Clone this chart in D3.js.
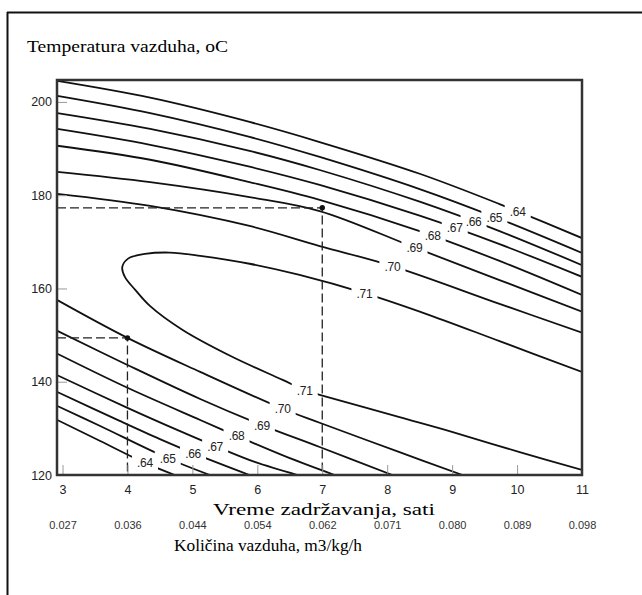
<!DOCTYPE html>
<html>
<head>
<meta charset="utf-8">
<script src="https://cdn.jsdelivr.net/npm/d3@7"></script>
<style>
  body { margin: 0; background: #fff; }
  svg { display: block; }
</style>
</head>
<body>
<div id="chart"></div>
<script>
// bottom axis: hours, and the air amount that goes with each hour
const hours = [3, 4, 5, 6, 7, 8, 9, 10, 11];
const airAmount = ["0.027", "0.036", "0.044", "0.054", "0.062", "0.071", "0.080", "0.089", "0.098"];
const tempTicks = [120, 140, 160, 180, 200];

const levels = [".64", ".65", ".66", ".67", ".68", ".69", ".70", ".71"];

// contour lines, [hours, temperature C]
const upper64 = [[2.92,204.5],[4.35,200.9],[5.88,195.7],[6.96,191.4],[8.5,184.6],[9.73,178.1],[11,170.8]];
const upper65 = [[2.92,201.3],[4.35,197.6],[5.88,192.5],[6.96,188.2],[8.5,181.3],[9.73,174.9],[11,167.6]];
const upper66 = [[2.92,197.6],[4.35,194.2],[5.88,189.5],[6.96,185.4],[8.5,178.6],[9.73,172.3],[11,165.0]];
const upper67 = [[2.92,194.2],[4.35,190.8],[5.88,186.1],[6.96,182.2],[8.5,175.6],[9.73,169.5],[11,162.5]];
const upper68 = [[2.92,190.6],[4.35,187.6],[5.88,182.8],[6.96,179.0],[8.5,172.3],[9.73,165.9],[11,158.6]];
const upper69 = [[2.92,185.0],[4.35,182.8],[5.88,179.6],[6.96,176.6],[8.42,168.8],[9.73,161.8],[11,155.0]];
const upper70 = [[2.92,180.3],[4.35,177.7],[5.88,173.4],[6.96,169.1],[8.08,164.8],[9.73,156.7],[11,150.5]];
const ring71 = [[11,142.1],[9.73,148.7],[8.65,154.3],[7.65,159.0],[6.65,162.9],[5.88,165.3],[5.12,167.0],[4.65,167.7],
  [4.27,167.4],[4.01,166.4],[3.92,164.6],[3.96,162.5],[4.12,159.7],[4.35,156.2],[4.85,151.1],[5.62,145.3],
  [6.39,140.4],[6.73,138.2],[6.96,137.2],[8.19,132.4],[9.01,129.2],[10.04,124.9],[11,121.1]];
const lower70 = [[2.92,157.5],[4,149.4],[5.12,142.1],[6.39,134.2],[6.96,131.2],[8.19,124.9],[9.16,120]];
const lower69 = [[2.92,150.9],[4,143.6],[5.12,136.3],[6.07,130.7],[6.96,126.0],[8.08,120]];
const lower68 = [[2.92,146.0],[4,138.7],[5.12,131.8],[5.68,128.4],[6.5,123.6],[7.19,120]];
const lower67 = [[2.92,141.4],[4,134.4],[4.81,129.4],[5.35,126.2],[5.96,122.8],[6.62,120]];
const lower66 = [[2.92,137.8],[3.88,131.6],[4.5,127.7],[5.01,124.7],[5.88,120]];
const lower65 = [[2.92,134.8],[3.58,130.5],[4.62,123.6],[5.27,120]];
const lower64 = [[2.92,131.8],[3.58,127.3],[4.27,122.6],[4.73,120]];

// where the level labels sit on the lines
const upperLabels = [[10.01,176.5],[9.65,175.3],[9.33,174.3],[9.04,173.0],[8.70,171.3],[8.42,168.8],[8.08,164.8],[7.65,159.0]];
const lowerLabels = [[4.27,122.6],[4.62,123.6],[5.01,124.7],[5.35,126.2],[5.68,128.4],[6.07,130.7],[6.39,134.2],[6.73,138.2]];

// the two marked points
const refHours = [4, 7];
const refTemps = [149.4, 177.3];

const width = 642, height = 595;
const plotLeft = 57, plotRight = 582, plotTop = 80, plotBottom = 475;

const svg = d3.select("#chart").append("svg")
  .attr("width", width)
  .attr("height", height);

const x = d3.scaleLinear().domain([2.915, 11]).range([plotLeft, plotRight]);
const y = d3.scaleLinear().domain([120, 204.7]).range([plotBottom, plotTop]);

// outer frame (only top and left show in the window)
svg.append("line").attr("x1", 7).attr("y1", 12.5).attr("x2", width).attr("y2", 12.5)
  .attr("stroke", "#111").attr("stroke-width", 2);
svg.append("line").attr("x1", 7.5).attr("y1", 12).attr("x2", 7.5).attr("y2", height)
  .attr("stroke", "#111").attr("stroke-width", 2);

const serif = "Liberation Serif, serif";

svg.append("text")
  .attr("x", 27).attr("y", 52)
  .attr("font-family", serif)
  .attr("font-size", 17)
  .attr("textLength", 201)
  .attr("lengthAdjust", "spacingAndGlyphs")
  .text("Temperatura vazduha, oC");

const defs = svg.append("defs");
defs.append("clipPath").attr("id", "plotClip")
  .append("rect").attr("x", plotLeft).attr("y", plotTop)
  .attr("width", plotRight - plotLeft).attr("height", plotBottom - plotTop);

const lines = [
  { pts: upper64, labels: [upperLabels[0]] },
  { pts: upper65, labels: [upperLabels[1]] },
  { pts: upper66, labels: [upperLabels[2]] },
  { pts: upper67, labels: [upperLabels[3]] },
  { pts: upper68, labels: [upperLabels[4]] },
  { pts: upper69, labels: [upperLabels[5]] },
  { pts: upper70, labels: [upperLabels[6]] },
  { pts: ring71, labels: [upperLabels[7], lowerLabels[7]] },
  { pts: lower64, labels: [lowerLabels[0]] },
  { pts: lower65, labels: [lowerLabels[1]] },
  { pts: lower66, labels: [lowerLabels[2]] },
  { pts: lower67, labels: [lowerLabels[3]] },
  { pts: lower68, labels: [lowerLabels[4]] },
  { pts: lower69, labels: [lowerLabels[5]] },
  { pts: lower70, labels: [lowerLabels[6]] }
];

const line = d3.line()
  .x(d => x(d[0]))
  .y(d => y(d[1]))
  .curve(d3.curveCatmullRom.alpha(0.5));

const plot = svg.append("g").attr("clip-path", "url(#plotClip)");

lines.forEach(function(c, i) {
  // cut a gap in this line where its label goes
  const mask = defs.append("mask").attr("id", "gap" + i)
    .attr("maskUnits", "userSpaceOnUse")
    .attr("x", 0).attr("y", 0).attr("width", width).attr("height", height);
  mask.append("rect").attr("width", width).attr("height", height).attr("fill", "#fff");
  c.labels.forEach(function(p) {
    mask.append("rect")
      .attr("x", x(p[0]) - 13).attr("y", y(p[1]) - 7)
      .attr("width", 26).attr("height", 14)
      .attr("fill", "#000");
  });
  plot.append("path")
    .attr("d", line(c.pts))
    .attr("fill", "none")
    .attr("stroke", "#111")
    .attr("stroke-width", 1.8)
    .attr("mask", "url(#gap" + i + ")");
});

// level labels
const labelFont = "Liberation Sans, Arial, sans-serif";
[upperLabels, lowerLabels].forEach(function(set) {
  svg.append("g").selectAll("text")
    .data(set)
    .enter().append("text")
    .attr("x", d => x(d[0]))
    .attr("y", d => y(d[1]) + 4.5)
    .attr("text-anchor", "middle")
    .attr("font-family", labelFont)
    .attr("font-size", 12)
    .attr("letter-spacing", -0.3)
    .attr("fill", "#222")
    .text((d, i) => levels[i]);
});

// dashed guide lines to the marked points
refHours.forEach(function(h, i) {
  const t = refTemps[i];
  svg.append("path")
    .attr("d", "M" + x.range()[0] + "," + y(t) + "H" + x(h) + "V" + y.range()[0])
    .attr("fill", "none")
    .attr("stroke", "#222")
    .attr("stroke-width", 1.3)
    .attr("stroke-dasharray", "9,4");
  svg.append("circle")
    .attr("cx", x(h)).attr("cy", y(t)).attr("r", 2.7)
    .attr("fill", "#111");
});

// axes
const xAxis = svg.append("g")
  .attr("transform", "translate(0," + plotBottom + ")")
  .call(d3.axisBottom(x).tickValues(hours).tickSizeInner(-10).tickSizeOuter(0).tickPadding(10));
xAxis.select(".domain").remove();
xAxis.selectAll("line").attr("stroke", "#999");
xAxis.selectAll("text").attr("font-family", labelFont).attr("font-size", 12.5).attr("fill", "#222");

const airAxis = svg.append("g")
  .attr("transform", "translate(0," + plotBottom + ")")
  .call(d3.axisBottom(x).tickValues(hours).tickSize(0).tickPadding(46)
    .tickFormat((d, i) => airAmount[i]));
airAxis.select(".domain").remove();
airAxis.selectAll("text").attr("font-family", labelFont).attr("font-size", 11).attr("fill", "#333");

const yAxis = svg.append("g")
  .attr("transform", "translate(" + plotLeft + ",0)")
  .call(d3.axisLeft(y).tickValues(tempTicks).tickSizeInner(-10).tickSizeOuter(0).tickPadding(5));
yAxis.select(".domain").remove();
yAxis.selectAll("line").attr("stroke", "#999");
yAxis.selectAll("text").attr("font-family", labelFont).attr("font-size", 12.5).attr("fill", "#222");

// plot frame
svg.append("rect")
  .attr("x", plotLeft).attr("y", plotTop)
  .attr("width", plotRight - plotLeft).attr("height", plotBottom - plotTop)
  .attr("fill", "none")
  .attr("stroke", "#333")
  .attr("stroke-width", 2.5);

svg.append("text")
  .attr("x", 213).attr("y", 515)
  .attr("font-family", serif)
  .attr("font-size", 17)
  .attr("textLength", 222)
  .attr("lengthAdjust", "spacingAndGlyphs")
  .text("Vreme zadržavanja, sati");

svg.append("text")
  .attr("x", 174).attr("y", 551)
  .attr("font-family", serif)
  .attr("font-size", 17)
  .attr("textLength", 188)
  .attr("lengthAdjust", "spacingAndGlyphs")
  .text("Količina vazduha, m3/kg/h");
</script>
</body>
</html>
